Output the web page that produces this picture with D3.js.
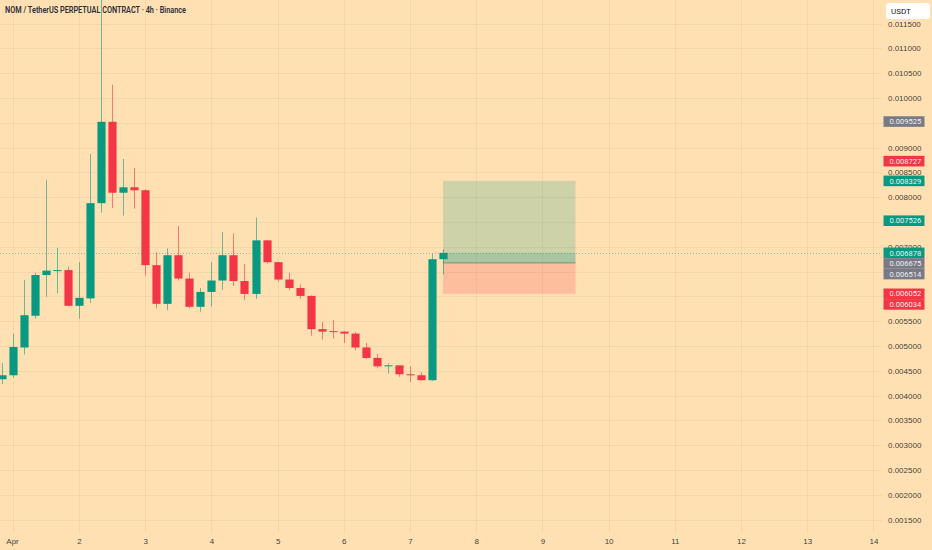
<!DOCTYPE html>
<html>
<head>
<meta charset="utf-8">
<script src="https://cdn.jsdelivr.net/npm/d3@7"></script>
<style>
  html, body { margin: 0; padding: 0; background: #FFE0B2; }
  svg { display: block; font-family: Roboto, "Noto Sans", sans-serif; }
</style>
</head>
<body>
<svg id="chart"></svg>
<script>
// 4h bars, NOM/USDT perp
const barTimes = [
  "2025-03-31T20:00",
  "2025-04-01T00:00", "2025-04-01T04:00", "2025-04-01T08:00", "2025-04-01T12:00", "2025-04-01T16:00", "2025-04-01T20:00",
  "2025-04-02T00:00", "2025-04-02T04:00", "2025-04-02T08:00", "2025-04-02T12:00", "2025-04-02T16:00", "2025-04-02T20:00",
  "2025-04-03T00:00", "2025-04-03T04:00", "2025-04-03T08:00", "2025-04-03T12:00", "2025-04-03T16:00", "2025-04-03T20:00",
  "2025-04-04T00:00", "2025-04-04T04:00", "2025-04-04T08:00", "2025-04-04T12:00", "2025-04-04T16:00", "2025-04-04T20:00",
  "2025-04-05T00:00", "2025-04-05T04:00", "2025-04-05T08:00", "2025-04-05T12:00", "2025-04-05T16:00", "2025-04-05T20:00",
  "2025-04-06T00:00", "2025-04-06T04:00", "2025-04-06T08:00", "2025-04-06T12:00", "2025-04-06T16:00", "2025-04-06T20:00",
  "2025-04-07T00:00", "2025-04-07T04:00", "2025-04-07T08:00", "2025-04-07T12:00"
];
const opens = [
  0.00433,
  0.00441, 0.00497, 0.00561, 0.00643, 0.00652, 0.00653,
  0.00581, 0.00596, 0.00788, 0.00952, 0.00809, 0.00820,
  0.00814, 0.00663, 0.00585, 0.00683, 0.00636, 0.00579,
  0.00609, 0.00632, 0.00683, 0.00631, 0.00605, 0.00713,
  0.00669, 0.00634, 0.00617, 0.00601, 0.00534, 0.00530,
  0.00529, 0.00525, 0.00497, 0.00476, 0.00459, 0.00461,
  0.00443, 0.00441, 0.00431, 0.00675
];
const highs = [
  0.00466,
  0.00525, 0.00633, 0.00648, 0.00835, 0.00698, 0.00660,
  0.00669, 0.00887, 0.01220, 0.01027, 0.00877, 0.00859,
  0.00816, 0.00689, 0.00697, 0.00742, 0.00648, 0.00617,
  0.00669, 0.00730, 0.00727, 0.00665, 0.00759, 0.00714,
  0.00669, 0.00648, 0.00624, 0.00602, 0.00548, 0.00552,
  0.00530, 0.00528, 0.00506, 0.00484, 0.00465, 0.00461,
  0.00459, 0.00447, 0.00686, 0.00695
];
const lows = [
  0.00423,
  0.00436, 0.00483, 0.00555, 0.00599, 0.00606, 0.00580,
  0.00555, 0.00587, 0.00769, 0.00778, 0.00763, 0.00777,
  0.00642, 0.00576, 0.00572, 0.00632, 0.00576, 0.00569,
  0.00580, 0.00613, 0.00621, 0.00593, 0.00595, 0.00666,
  0.00630, 0.00613, 0.00595, 0.00521, 0.00513, 0.00515,
  0.00506, 0.00492, 0.00474, 0.00455, 0.00444, 0.00438,
  0.00427, 0.00430, 0.00430, 0.00644
];
const closes = [
  0.00441,
  0.00498, 0.00562, 0.00643, 0.00652, 0.00653, 0.00581,
  0.00597, 0.00788, 0.00952, 0.00809, 0.00820, 0.00814,
  0.00663, 0.00585, 0.00683, 0.00636, 0.00579, 0.00609,
  0.00632, 0.00683, 0.00631, 0.00605, 0.00713, 0.00669,
  0.00634, 0.00617, 0.00601, 0.00534, 0.00529, 0.00529,
  0.00525, 0.00497, 0.00476, 0.00459, 0.00461, 0.00443,
  0.00442, 0.00431, 0.00675, 0.006878
];

// axes
const dayTicks = ["2025-04-01", "2025-04-02", "2025-04-03", "2025-04-04", "2025-04-05", "2025-04-06", "2025-04-07",
                  "2025-04-08", "2025-04-09", "2025-04-10", "2025-04-11", "2025-04-12", "2025-04-13", "2025-04-14"];
const priceTicks = [0.0015, 0.002, 0.0025, 0.003, 0.0035, 0.004, 0.0045, 0.005, 0.0055, 0.006,
                    0.0065, 0.007, 0.0075, 0.008, 0.0085, 0.009, 0.0095, 0.010, 0.0105, 0.011, 0.0115];

// long position tool
const positionFrom = "2025-04-07T12:00";
const positionTo = "2025-04-09T12:00";
const entryPrice = 0.006675;
const targetPrice = 0.008329;
const stopPrice = 0.006052;

// price scale badges
const badgeValues = [0.009525, 0.008727, 0.008329, 0.007526, 0.006878, 0.006675, 0.006514, 0.006052, 0.006034];
const badgeKinds  = ["gray", "red", "green", "green", "green", "gray", "gray", "red", "red"];

const titleText = "NOM / TetherUS PERPETUAL CONTRACT · 4h · Binance";
const currencyText = "USDT";

// ---------------------------------------------------------------
const width = 932, height = 550;
const plot = { left: 0, right: 882, top: 0, bottom: 533 };
const colors = {
  bg: "#FFE0B2",
  up: "#089981",
  down: "#F23645",
  gray: "#787B86",
  text: "#131722"
};
const badgeFill = { gray: colors.gray, red: colors.down, green: colors.up };

const parseBar = d3.timeParse("%Y-%m-%dT%H:%M");
const parseDay = d3.timeParse("%Y-%m-%d");

const bars = barTimes.map((t, i) => ({
  date: parseBar(t), open: opens[i], high: highs[i], low: lows[i], close: closes[i]
}));
const days = dayTicks.map(parseDay);

const svg = d3.select("#chart")
  .attr("width", width)
  .attr("height", height);

svg.append("rect")
  .attr("width", width)
  .attr("height", height)
  .attr("fill", colors.bg);

// scales
const x = d3.scaleTime()
  .domain([days[0], days[days.length - 1]])
  .range([12.8, 873.4]);
const y = d3.scaleLinear()
  .domain([0.0015, 0.0115])
  .range([519.6, 23.6]);

const barStep = x(bars[1].date) - x(bars[0].date);
const bodyW = barStep * 0.74;

svg.append("clipPath").attr("id", "plotClip")
  .append("rect")
  .attr("x", plot.left).attr("y", plot.top)
  .attr("width", plot.right - plot.left)
  .attr("height", plot.bottom - plot.top);

const chart = svg.append("g").attr("clip-path", "url(#plotClip)");

// grid
chart.append("g").selectAll("line")
  .data(priceTicks)
  .join("line")
    .attr("x1", plot.left).attr("x2", plot.right)
    .attr("y1", d => Math.round(y(d)) + 0.5)
    .attr("y2", d => Math.round(y(d)) + 0.5)
    .attr("stroke", "#000").attr("stroke-opacity", 0.045);
chart.append("g").selectAll("line")
  .data(days)
  .join("line")
    .attr("x1", d => Math.round(x(d)) + 0.5)
    .attr("x2", d => Math.round(x(d)) + 0.5)
    .attr("y1", plot.top).attr("y2", plot.bottom)
    .attr("stroke", "#000").attr("stroke-opacity", 0.045);

// position tool
const px0 = x(parseBar(positionFrom)), px1 = x(parseBar(positionTo));
const lastClose = closes[closes.length - 1];
chart.append("rect")
  .attr("x", px0).attr("width", px1 - px0)
  .attr("y", y(targetPrice)).attr("height", y(entryPrice) - y(targetPrice))
  .attr("fill", colors.up).attr("fill-opacity", 0.2);
chart.append("rect")
  .attr("x", px0).attr("width", px1 - px0)
  .attr("y", y(entryPrice)).attr("height", y(stopPrice) - y(entryPrice))
  .attr("fill", colors.down).attr("fill-opacity", 0.2);
chart.append("rect")
  .attr("x", px0).attr("width", px1 - px0)
  .attr("y", y(lastClose)).attr("height", y(entryPrice) - y(lastClose))
  .attr("fill", colors.up).attr("fill-opacity", 0.2);
chart.append("line")
  .attr("x1", px0).attr("x2", px1)
  .attr("y1", y(entryPrice)).attr("y2", y(entryPrice))
  .attr("stroke", colors.gray).attr("stroke-opacity", 0.8);

// last price line
chart.append("line")
  .attr("x1", plot.left).attr("x2", plot.right)
  .attr("y1", Math.round(y(lastClose)) + 0.5)
  .attr("y2", Math.round(y(lastClose)) + 0.5)
  .attr("stroke", colors.up).attr("stroke-opacity", 0.5)
  .attr("stroke-dasharray", "1,2");

// candles
const candle = chart.append("g").selectAll("g")
  .data(bars)
  .join("g");
candle.append("line")
  .attr("x1", d => Math.round(x(d.date)) + 0.5)
  .attr("x2", d => Math.round(x(d.date)) + 0.5)
  .attr("y1", d => y(d.high))
  .attr("y2", d => y(d.low))
  .attr("stroke", d => d.close >= d.open ? colors.up : colors.down)
  .attr("stroke-opacity", 0.6);
candle.append("rect")
  .attr("x", d => Math.round(x(d.date)) + 0.5 - bodyW / 2)
  .attr("width", bodyW)
  .attr("y", d => y(Math.max(d.open, d.close)))
  .attr("height", d => Math.max(1, Math.abs(y(d.open) - y(d.close))))
  .attr("fill", d => d.close >= d.open ? colors.up : colors.down);

// badges on the price scale, pushed down when they collide
const badgeH = 10.6;
let badges = badgeValues.map((v, i) => ({ value: v, kind: badgeKinds[i], cy: y(v) }))
  .sort((a, b) => a.cy - b.cy);
badges.forEach((b, i) => {
  if (i > 0 && b.cy < badges[i - 1].cy + badgeH) b.cy = badges[i - 1].cy + badgeH;
});
const underBadge = v => badges.some(b => Math.abs(y(v) - b.cy) < badgeH / 2);

// price axis (labels that sit under a badge are hidden, as on the price scale)
const yAxis = d3.axisRight(y)
  .tickValues(priceTicks.filter(v => !underBadge(v)))
  .tickSize(0)
  .tickPadding(6)
  .tickFormat(d3.format(".6f"));
const yAxisGroup = svg.append("g")
  .attr("transform", `translate(${plot.right},0)`)
  .call(yAxis);
yAxisGroup.select(".domain").remove();
yAxisGroup.selectAll("text")
  .attr("font-size", "8px")
  .attr("fill", colors.text)
  .attr("fill-opacity", 0.85);

// time axis
const xAxis = d3.axisBottom(x)
  .tickValues(days)
  .tickSize(0)
  .tickPadding(5)
  .tickFormat(d => d.getDate() === 1 ? d3.timeFormat("%b")(d) : d3.timeFormat("%-d")(d));
const xAxisGroup = svg.append("g")
  .attr("transform", `translate(0,${plot.bottom})`)
  .call(xAxis);
xAxisGroup.select(".domain").remove();
xAxisGroup.selectAll("text")
  .attr("font-size", "8px")
  .attr("fill", colors.text)
  .attr("fill-opacity", 0.85)
  .attr("text-anchor", d => d.getDate() === 1 ? "start" : "middle")
  .attr("dx", d => d.getDate() === 1 ? "-7" : "0");

const badge = svg.append("g").selectAll("g")
  .data(badges)
  .join("g")
  .attr("transform", d => `translate(${plot.right + 1.5},${d.cy})`);
badge.append("rect")
  .attr("x", 0).attr("y", -badgeH / 2)
  .attr("width", 41).attr("height", badgeH)
  .attr("fill", d => badgeFill[d.kind]);
badge.append("text")
  .attr("x", 6).attr("dy", "0.35em")
  .attr("font-size", "7.6px")
  .attr("fill", "#fff")
  .attr("fill-opacity", 0.92)
  .text(d => d3.format(".6f")(d.value));

// currency label
svg.append("rect")
  .attr("x", 886).attr("y", 3)
  .attr("width", 44).attr("height", 16)
  .attr("rx", 3)
  .attr("fill", "#fff");
svg.append("text")
  .attr("x", 891).attr("y", 11)
  .attr("dy", "0.35em")
  .attr("font-size", "8px")
  .attr("fill", colors.text)
  .text(currencyText);

// title
svg.append("text")
  .attr("x", 5).attr("y", 10)
  .attr("dy", "0.35em")
  .attr("font-size", "8.5px")
  .attr("font-weight", 600)
  .attr("fill", "#2a2e39")
  .attr("textLength", 181)
  .attr("lengthAdjust", "spacingAndGlyphs")
  .text(titleText);
</script>
</body>
</html>
